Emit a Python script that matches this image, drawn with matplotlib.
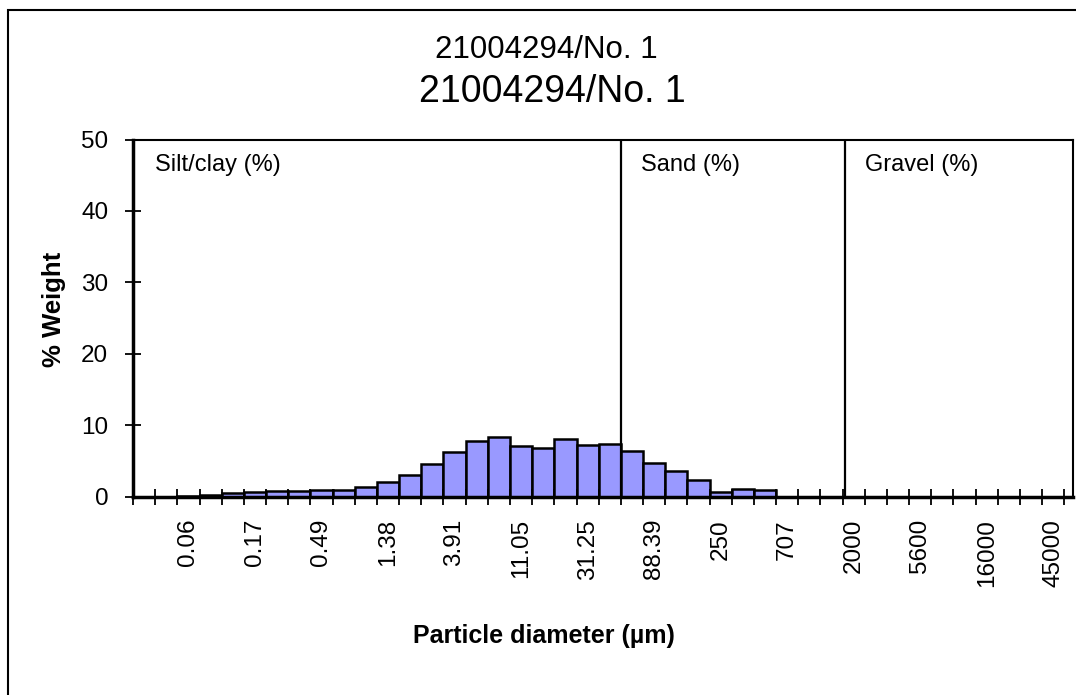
import numpy as np
import matplotlib
matplotlib.use('Agg')
import matplotlib.pyplot as plt
from matplotlib.patches import Rectangle

plt.rcParams['font.family'] = ['Liberation Sans', 'DejaVu Sans']

# % weight per size class (42 classes, ratio sqrt(2) between classes)
weights = [0.0, 0.0, 0.1, 0.3, 0.5, 0.7, 0.8, 0.8, 1.0, 1.0,
           1.4, 2.1, 3.0, 4.6, 6.3, 7.8, 8.4, 7.1, 6.8, 8.1,
           7.3, 7.4, 6.4, 4.7, 3.6, 2.4, 0.7, 1.1, 0.9, 0.0,
           0.0, 0.0, 0.0, 0.0, 0.0, 0.0, 0.0, 0.0, 0.0, 0.0,
           0.0, 0.0]
tick_labels = ['0.06', '0.17', '0.49', '1.38', '3.91', '11.05', '31.25',
               '88.39', '250', '707', '2000', '5600', '16000', '45000']
fractions = ['Silt/clay (%)', 'Sand (%)', 'Gravel (%)']
fraction_bounds = [21.5, 31.62]   # class-index positions of the sand / gravel limits
fraction_text_x = [0.48, 22.41, 32.52]
title = '21004294/No. 1'

W, H = 1076, 695
fig = plt.figure(figsize=(W / 100, H / 100), dpi=100)
ax = fig.add_axes([133 / W, 1 - 496.7 / H, (1073 - 133) / W, (496.7 - 139.5) / H])

x = np.arange(len(weights))
ax.bar(x, weights, width=1.0, color='#9999FF', edgecolor='black', linewidth=1.8)

for b in fraction_bounds:
    ax.axvline(b, color='black', linewidth=1.6)
for tx, t in zip(fraction_text_x, fractions):
    ax.text(tx, 45.6, t, fontsize=17, va='baseline', ha='left')

ax.set_xlim(-0.5, 41.89)
ax.set_ylim(0, 50)
ax.set_yticks(np.arange(0, 51, 10))
ax.set_xticks(np.arange(2, len(weights), 3))
ax.set_xticklabels(tick_labels, rotation=90)
ax.set_xticks(np.arange(-0.5, len(weights) + 0.5, 1), minor=True)

ax.tick_params(axis='x', which='major', length=0, pad=16, labelsize=17.5)
ax.tick_params(axis='x', which='minor', direction='inout', length=11.5, width=1.3)
ax.tick_params(axis='y', which='major', direction='inout', length=11.5, width=1.3,
               pad=12, labelsize=17.5)

for side in ['left', 'bottom']:
    ax.spines[side].set_linewidth(2.5)
for side in ['top', 'right']:
    ax.spines[side].set_linewidth(1.5)

fig.text(54 / W, 1 - 309 / H, '% Weight', fontsize=18.5, fontweight='bold',
         rotation=90, ha='center', va='center')
fig.text(544 / W, 1 - 643 / H, 'Particle diameter (µm)', fontsize=18,
         fontweight='bold', ha='center', va='baseline')

fig.text(546 / W, 1 - 58 / H, title, fontsize=22.5, ha='center', va='baseline')
fig.text(552 / W, 1 - 102 / H, title, fontsize=27, ha='center', va='baseline')

fig.patches.append(Rectangle((8 / W, -0.1), 1.2, 1.1 - 10 / H, transform=fig.transFigure,
                             fill=False, edgecolor='black', linewidth=1.5))

fig.savefig('out.png', dpi=100)
